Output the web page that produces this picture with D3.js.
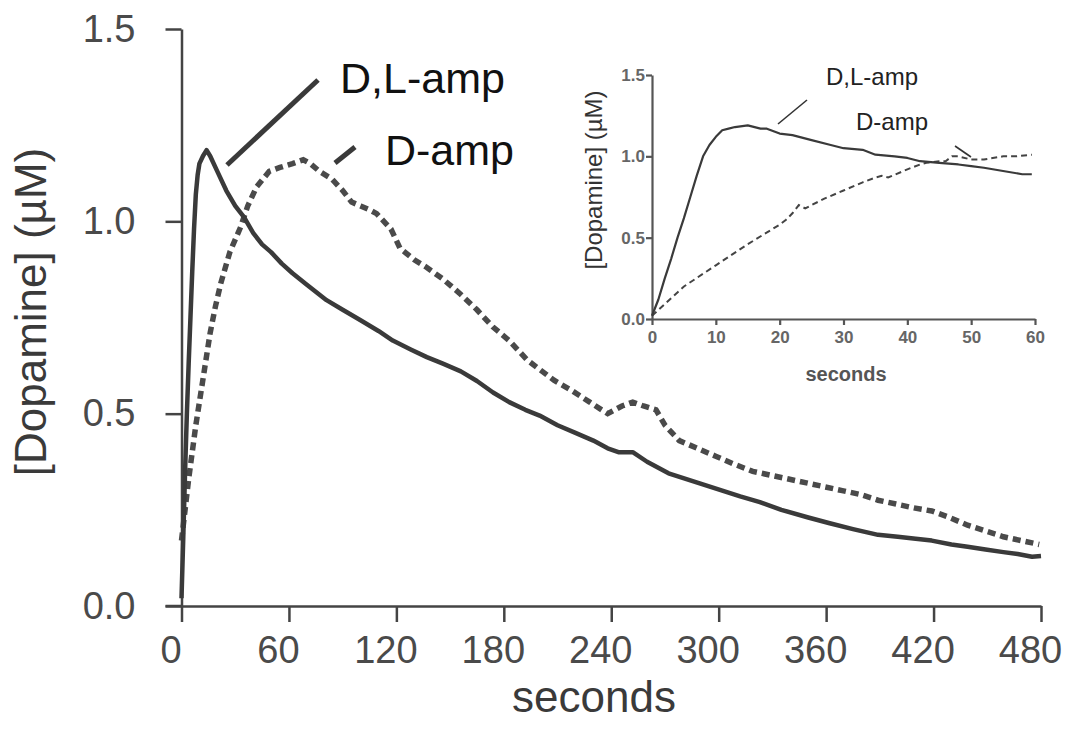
<!DOCTYPE html>
<html>
<head>
<meta charset="utf-8">
<script src="https://cdn.jsdelivr.net/npm/d3@7"></script>
<style>
  body { margin: 0; background: #fff; }
  svg { font-family: "Liberation Sans", Arial, sans-serif; }
</style>
</head>
<body>
<div id="chartContainer"></div>
<script>
// main trace, D,L-amp (solid)
var dlMainT = [0,1,2,3,4,5,6,7,8,9,10,12,14,16,20,25,30,35,40,45,50,56,62,70,81,90,100,110,118,128,137,146,156,165,174,183,192,200,210,220,230,238,244,252,260,272,282,292,302,312,323,335,350,362,375,389,400,410,419,430,439,449,459,467,475,480];
var dlMainY = [0.02,0.18,0.35,0.5,0.63,0.75,0.87,0.98,1.07,1.12,1.15,1.17,1.185,1.17,1.13,1.08,1.04,1.01,0.97,0.94,0.92,0.89,0.865,0.835,0.795,0.77,0.743,0.715,0.69,0.667,0.647,0.63,0.61,0.585,0.555,0.53,0.51,0.495,0.47,0.45,0.43,0.41,0.40,0.40,0.375,0.345,0.33,0.315,0.30,0.285,0.27,0.25,0.23,0.215,0.20,0.185,0.18,0.175,0.17,0.16,0.154,0.147,0.14,0.135,0.128,0.13];

// main trace, D-amp (dashed)
var dMainT = [0,2,4,6,8,10,13,16,19,22,27,33,37,42,49,55,62,68,72,77,84,90,95,100,105,109,113,117,122,130,137,146,156,165,174,183,193,200,208,218,228,238,246,252,258,265,270,278,288,298,308,319,329,339,349,359,369,379,389,399,409,419,429,439,449,459,469,479];
var dMainY = [0.17,0.25,0.33,0.40,0.47,0.53,0.62,0.71,0.78,0.84,0.92,0.985,1.04,1.09,1.13,1.14,1.15,1.16,1.15,1.13,1.11,1.08,1.05,1.04,1.03,1.02,1.00,0.98,0.93,0.90,0.88,0.85,0.81,0.77,0.725,0.69,0.64,0.615,0.587,0.56,0.53,0.50,0.52,0.53,0.52,0.51,0.47,0.43,0.41,0.39,0.37,0.35,0.34,0.33,0.32,0.31,0.30,0.29,0.275,0.265,0.255,0.247,0.23,0.21,0.195,0.18,0.17,0.16];

// inset, first 60 s
var dlInsetT = [0,1,2,3,4,5,6,7,8,9,10,11,12,13,15,17,18,20,22,25,28,30,33,35,38,40,42,45,48,50,52,55,58,59.5];
var dlInsetY = [0.02,0.12,0.25,0.37,0.5,0.62,0.75,0.88,1.0,1.07,1.12,1.16,1.17,1.18,1.19,1.17,1.17,1.14,1.13,1.10,1.07,1.05,1.04,1.01,1.0,0.99,0.97,0.96,0.95,0.94,0.93,0.91,0.89,0.89];
var dInsetT = [0,5,10,15,20,21,22,23,24,27,30,33,35,36,37,40,42,43,45,46,47,48,50,52,55,57,59.5];
var dInsetY = [0.02,0.2,0.33,0.46,0.58,0.61,0.65,0.70,0.68,0.74,0.79,0.84,0.87,0.88,0.87,0.92,0.95,0.96,0.97,0.97,1.0,1.0,0.98,0.98,1.0,1.0,1.01];

var mainXTicks  = [0,60,120,180,240,300,360,420,480],
    mainYTicks  = [0,0.5,1.0,1.5],
    insetXTicks = [0,10,20,30,40,50,60],
    insetYTicks = [0,0.5,1.0,1.5];

var width  = 1065,
    height = 738,
    svg    = d3.select('#chartContainer').append('svg')
                .attr('width', width).attr('height', height);

function zip(t, y) {
    return t.map(function(d, i) { return { t: d, v: y[i] }; });
}

function draw() {
    var x = d3.scaleLinear().domain([0, 480]).range([181.5, 1041]),
        y = d3.scaleLinear().domain([0, 1.5]).range([606, 29]),
        line = d3.line().x(function(d) { return x(d.t); }).y(function(d) { return y(d.v); }),
        g = svg.append('g');

    var xAxis = g.append('g')
        .attr('transform', 'translate(0,' + y(0) + ')')
        .call(d3.axisBottom(x).tickValues(mainXTicks).tickSize(16).tickSizeOuter(0).tickPadding(14)
            .tickFormat(d3.format('d')));
    var yAxis = g.append('g')
        .attr('transform', 'translate(' + x(0) + ',0)')
        .call(d3.axisLeft(y).tickValues(mainYTicks).tickSize(16).tickSizeOuter(0).tickPadding(30)
            .tickFormat(d3.format('.1f')));
    [xAxis, yAxis].forEach(function(a) {
        a.select('.domain').attr('stroke', '#444').attr('stroke-width', 2.5);
        a.selectAll('.tick line').attr('stroke', '#444').attr('stroke-width', 2.5);
        a.selectAll('.tick text').attr('fill', '#4a4a4a').style('font-size', '38px');
    });
    // labels sit a little left of their ticks in the original
    xAxis.selectAll('.tick text').attr('dx', -11);
    // x axis line runs out to the left under the 0.0 tick
    g.append('line')
        .attr('x1', x(0) - 16).attr('x2', x(0))
        .attr('y1', y(0)).attr('y2', y(0))
        .attr('stroke', '#444').attr('stroke-width', 2.5);

    g.append('path')
        .datum(zip(dMainT, dMainY))
        .attr('d', line)
        .attr('fill', 'none')
        .attr('stroke', '#4a4a4a')
        .attr('stroke-width', 5.5)
        .attr('stroke-dasharray', '8,5');
    g.append('path')
        .datum(zip(dlMainT, dlMainY))
        .attr('d', line)
        .attr('fill', 'none')
        .attr('stroke', '#3a3a3a')
        .attr('stroke-width', 4.5)
        .attr('stroke-linejoin', 'round');

    // callouts
    g.append('line').attr('x1', 227).attr('y1', 165).attr('x2', 318).attr('y2', 80)
        .attr('stroke', '#3a3a3a').attr('stroke-width', 5);
    g.append('line').attr('x1', 335).attr('y1', 163).attr('x2', 355).attr('y2', 147)
        .attr('stroke', '#3a3a3a').attr('stroke-width', 5);
    g.append('text').attr('x', 340).attr('y', 93).text('D,L-amp')
        .style('font-size', '43px').attr('fill', '#111');
    g.append('text').attr('x', 385).attr('y', 165).text('D-amp')
        .style('font-size', '43px').attr('fill', '#111');

    g.append('text')
        .attr('x', 594).attr('y', 712)
        .attr('text-anchor', 'middle')
        .style('font-size', '44px')
        .attr('fill', '#3a3a3a')
        .text('seconds');
    g.append('text')
        .attr('transform', 'translate(46,312) rotate(-90)')
        .attr('text-anchor', 'middle')
        .style('font-size', '44px')
        .attr('fill', '#3a3a3a')
        .text('[Dopamine] (\u00b5M)');
}

function drawInset() {
    var x = d3.scaleLinear().domain([0, 60]).range([652, 1035]),
        y = d3.scaleLinear().domain([0, 1.5]).range([319, 75]),
        line = d3.line().x(function(d) { return x(d.t); }).y(function(d) { return y(d.v); }),
        g = svg.append('g');

    var xAxis = g.append('g')
        .attr('transform', 'translate(0,' + y(0) + ')')
        .call(d3.axisBottom(x).tickValues(insetXTicks).tickSize(6).tickSizeOuter(0).tickPadding(6)
            .tickFormat(d3.format('d')));
    var yAxis = g.append('g')
        .attr('transform', 'translate(' + x(0) + ',0)')
        .call(d3.axisLeft(y).tickValues(insetYTicks).tickSize(6).tickSizeOuter(0).tickPadding(1)
            .tickFormat(d3.format('.1f')));
    [xAxis, yAxis].forEach(function(a) {
        a.select('.domain').attr('stroke', '#555').attr('stroke-width', 2.2);
        a.selectAll('.tick line').attr('stroke', '#555').attr('stroke-width', 2.2);
        a.selectAll('.tick text').attr('fill', '#666').style('font-size', '17px').style('font-weight', 'bold');
    });

    g.append('path')
        .datum(zip(dInsetT, dInsetY))
        .attr('d', line)
        .attr('fill', 'none')
        .attr('stroke', '#444')
        .attr('stroke-width', 2)
        .attr('stroke-dasharray', '6,4');
    g.append('path')
        .datum(zip(dlInsetT, dlInsetY))
        .attr('d', line)
        .attr('fill', 'none')
        .attr('stroke', '#3a3a3a')
        .attr('stroke-width', 2.2)
        .attr('stroke-linejoin', 'round');

    g.append('line').attr('x1', 778).attr('y1', 124).attr('x2', 807).attr('y2', 100)
        .attr('stroke', '#333').attr('stroke-width', 1.6);
    g.append('line').attr('x1', 955).attr('y1', 146).attr('x2', 971).attr('y2', 157)
        .attr('stroke', '#333').attr('stroke-width', 1.6);
    g.append('text').attr('x', 826).attr('y', 85).text('D,L-amp')
        .style('font-size', '24px').attr('fill', '#222');
    g.append('text').attr('x', 856).attr('y', 130).text('D-amp')
        .style('font-size', '24px').attr('fill', '#222');

    g.append('text')
        .attr('x', 846).attr('y', 381)
        .attr('text-anchor', 'middle')
        .style('font-size', '20px')
        .style('font-weight', 'bold')
        .attr('fill', '#555')
        .text('seconds');
    g.append('text')
        .attr('transform', 'translate(602,180) rotate(-90)')
        .attr('text-anchor', 'middle')
        .style('font-size', '24px')
        .attr('fill', '#333')
        .text('[Dopamine] (\u00b5M)');
}

draw();
drawInset();
</script>
</body>
</html>
